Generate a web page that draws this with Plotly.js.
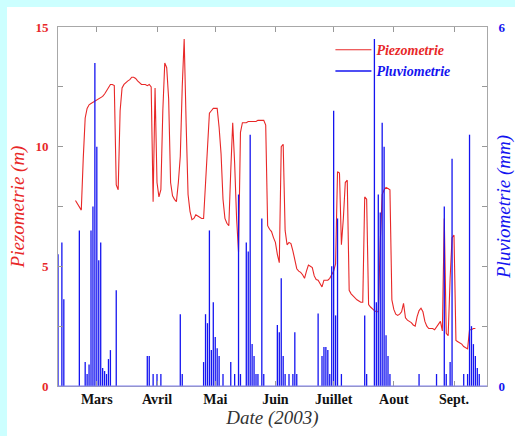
<!DOCTYPE html>
<html><head><meta charset="utf-8">
<script src="https://cdn.plot.ly/plotly-3.0.1.min.js"></script>
<style>
html,body{margin:0;padding:0;background:#ccffff;width:515px;height:436px;overflow:hidden}
#chart{position:absolute;left:7px;top:7px;width:508px;height:429px;background:#fff}
</style></head><body><div id="chart"></div>
<script>
const piezoDates = [
'2003-02-18','2003-02-19','2003-02-20','2003-02-21','2003-02-22','2003-02-23','2003-02-24','2003-02-25','2003-02-26','2003-02-27','2003-02-28',
'2003-03-01','2003-03-02','2003-03-03','2003-03-04','2003-03-05','2003-03-06','2003-03-07','2003-03-08','2003-03-09','2003-03-10',
'2003-03-11','2003-03-12','2003-03-13','2003-03-14','2003-03-15','2003-03-16','2003-03-17','2003-03-18','2003-03-19','2003-03-20',
'2003-03-21','2003-03-22','2003-03-23','2003-03-24','2003-03-25','2003-03-26','2003-03-27','2003-03-28','2003-03-29','2003-03-30','2003-03-31',
'2003-04-01','2003-04-02','2003-04-03','2003-04-04','2003-04-05','2003-04-06','2003-04-07','2003-04-08','2003-04-09','2003-04-10',
'2003-04-11','2003-04-12','2003-04-13','2003-04-14','2003-04-15','2003-04-16','2003-04-17','2003-04-18','2003-04-19','2003-04-20',
'2003-04-21','2003-04-22','2003-04-23','2003-04-24','2003-04-25','2003-04-26','2003-04-27','2003-04-28','2003-04-29','2003-04-30',
'2003-05-01','2003-05-02','2003-05-03','2003-05-04','2003-05-05','2003-05-06','2003-05-07','2003-05-08','2003-05-09','2003-05-10',
'2003-05-11','2003-05-12','2003-05-13','2003-05-14','2003-05-15','2003-05-16','2003-05-17','2003-05-18','2003-05-19','2003-05-20',
'2003-05-21','2003-05-22','2003-05-23','2003-05-24','2003-05-25','2003-05-26','2003-05-27','2003-05-28','2003-05-29','2003-05-30','2003-05-31',
'2003-06-01','2003-06-02','2003-06-03','2003-06-04','2003-06-05','2003-06-06','2003-06-07','2003-06-08','2003-06-09','2003-06-10',
'2003-06-11','2003-06-12','2003-06-13','2003-06-14','2003-06-15','2003-06-16','2003-06-17','2003-06-18','2003-06-19','2003-06-20',
'2003-06-21','2003-06-22','2003-06-23','2003-06-24','2003-06-25','2003-06-26','2003-06-27','2003-06-28','2003-06-29','2003-06-30',
'2003-07-01','2003-07-02','2003-07-03','2003-07-04','2003-07-05','2003-07-06','2003-07-07','2003-07-08','2003-07-09','2003-07-10',
'2003-07-11','2003-07-12','2003-07-13','2003-07-14','2003-07-15','2003-07-16','2003-07-17','2003-07-18','2003-07-19','2003-07-20',
'2003-07-21','2003-07-22','2003-07-23','2003-07-24','2003-07-25','2003-07-26','2003-07-27','2003-07-28','2003-07-29','2003-07-30','2003-07-31',
'2003-08-01','2003-08-02','2003-08-03','2003-08-04','2003-08-05','2003-08-06','2003-08-07','2003-08-08','2003-08-09','2003-08-10',
'2003-08-11','2003-08-12','2003-08-13','2003-08-14','2003-08-15','2003-08-16','2003-08-17','2003-08-18','2003-08-19','2003-08-20',
'2003-08-21','2003-08-22','2003-08-23','2003-08-24','2003-08-25','2003-08-26','2003-08-27','2003-08-28','2003-08-29','2003-08-30','2003-08-31',
'2003-09-01','2003-09-02','2003-09-03','2003-09-04','2003-09-05','2003-09-06','2003-09-07','2003-09-08','2003-09-09','2003-09-10','2003-09-11','2003-09-12'
];
const piezoValues = [
7.75,7.6,7.45,7.35,9.5,11.2,11.6,11.75,11.8,11.85,11.9,
11.95,12.0,12.05,12.1,12.2,12.35,12.5,12.6,12.6,12.55,
8.4,8.2,11.5,12.45,12.6,12.7,12.75,12.8,12.9,12.9,
12.85,12.75,12.65,12.6,12.6,12.6,12.55,12.6,12.5,7.7,12.45,
8.5,7.9,8.2,11.5,13.5,13.3,12.0,8.5,7.95,7.8,
7.7,8.5,9.6,12.5,14.5,11.0,8.0,7.3,6.95,7.0,
7.15,7.1,7.05,7.0,7.0,8.5,9.8,11.4,11.5,11.6,
11.6,11.6,10.8,9.7,7.8,7.0,6.8,6.7,9.0,11.0,
9.3,7.0,5.6,10.6,11.0,11.0,11.0,11.05,11.05,11.05,
11.05,11.05,11.1,11.1,11.1,11.1,10.9,6.7,6.55,6.45,6.2,
6.0,5.5,5.15,10.0,10.1,6.5,5.9,6.0,5.95,5.65,
5.3,4.9,4.8,4.75,4.65,4.5,4.8,5.05,5.0,4.95,
4.6,4.45,4.42,4.3,4.14,4.42,4.42,4.42,4.5,4.63,
4.8,5.1,8.95,8.9,5.9,7.0,8.5,8.6,4.0,3.85,
3.75,3.66,3.6,3.55,3.5,3.5,7.9,7.8,3.4,3.3,
3.2,3.15,3.1,3.1,6.0,8.0,8.2,8.3,8.25,8.2,3.6,
3.2,3.0,2.95,3.0,3.1,3.45,2.85,2.75,2.7,2.65,
2.55,2.5,2.9,3.15,3.25,3.1,2.7,2.5,2.4,2.4,
2.4,2.35,2.45,2.6,2.7,2.3,7.0,2.2,2.1,4.5,6.2,
6.3,1.9,1.85,1.8,1.75,1.65,1.6,1.55,2.35,2.35,2.4,2.4
];
const rainDates = [
'2003-02-09','2003-02-11','2003-02-12','2003-02-20','2003-02-23','2003-02-24','2003-02-25','2003-02-26','2003-02-27','2003-02-28',
'2003-03-01','2003-03-02','2003-03-03','2003-03-04','2003-03-05','2003-03-06','2003-03-07','2003-03-08','2003-03-11',
'2003-03-27','2003-03-28','2003-03-30','2003-04-01','2003-04-03','2003-04-13','2003-04-14',
'2003-04-25','2003-04-26','2003-04-27','2003-04-28','2003-04-29','2003-04-30',
'2003-05-01','2003-05-02','2003-05-03','2003-05-05','2003-05-09','2003-05-11','2003-05-13','2003-05-14',
'2003-05-17','2003-05-18','2003-05-19','2003-05-20','2003-05-21','2003-05-22','2003-05-23','2003-05-25','2003-05-26',
'2003-06-02','2003-06-03','2003-06-04','2003-06-05','2003-06-06','2003-06-08','2003-06-10','2003-06-11','2003-06-12',
'2003-06-23','2003-06-25','2003-06-26','2003-06-27','2003-06-28','2003-06-29','2003-06-30',
'2003-07-01','2003-07-02','2003-07-03','2003-07-05','2003-07-17','2003-07-18',
'2003-07-22','2003-07-23','2003-07-24','2003-07-25','2003-07-26','2003-07-27','2003-07-28','2003-07-29','2003-07-30',
'2003-08-14','2003-08-23','2003-08-27','2003-08-28','2003-08-30','2003-08-31',
'2003-09-06','2003-09-08','2003-09-09','2003-09-10','2003-09-11','2003-09-12','2003-09-13','2003-09-14'
];
const rainValues = [
2.2,2.4,1.45,2.6,0.4,0.2,0.36,2.6,3.0,5.4,
4.0,2.1,2.4,0.3,0.25,0.2,0.45,0.6,1.6,
0.5,0.5,0.2,0.2,0.2,1.2,0.2,
0.4,1.2,1.05,2.6,0.6,1.4,
0.82,0.63,0.5,0.2,0.4,0.2,3.2,0.2,
2.4,2.25,4.2,0.7,0.5,0.2,0.2,2.8,0.2,
1.02,0.9,1.8,0.5,0.2,0.2,0.2,0.9,0.2,
1.21,0.5,0.65,0.65,0.6,0.2,2.0,
4.6,1.18,2.8,0.2,1.18,0.2,
5.8,1.4,3.2,2.9,4.4,4.0,0.85,0.5,0.2,
0.2,0.2,3.0,0.2,0.4,3.8,
0.2,0.2,4.2,1.0,0.7,0.5,0.3,0.2
];
const monthTicks = ['2003-03-01','2003-04-01','2003-05-01','2003-06-01','2003-07-01','2003-08-01','2003-09-01'];
const monthLabels = ['Mars','Avril','Mai','Juin','Juillet','Aout','Sept.'];
const piezoTicks = [0,2.5,5,7.5,10,12.5,15];
const piezoTickLabels = ['0','','5','','10','','15'];
const rainTicks = [0,1,2,3,4,5,6];
const rainTickLabels = ['0','','','','','','6'];

const RED = '#e82828', BLUE = '#1414f0';
const serif = 'Liberation Serif, Times New Roman, serif';

const rx = [], ry = [];
rainDates.forEach((d, i) => { rx.push(d, d, null); ry.push(0, rainValues[i], null); });

const traces = [
  { x: piezoDates, y: piezoValues, type: 'scatter', mode: 'lines', yaxis: 'y', xaxis: 'x',
    line: { color: RED, width: 1.1 },
    name: '<span style="color:' + RED + '"><b><i>Piezometrie</i></b></span>' },
  { x: rx, y: ry, type: 'scatter', mode: 'lines', yaxis: 'y2', xaxis: 'x',
    line: { color: BLUE, width: 1.3 }, connectgaps: false,
    name: '<span style="color:' + BLUE + '"><b><i>Pluviometrie</i></b></span>' }
];

const layout = {
  width: 508, height: 429,
  margin: { l: 51, r: 28, t: 20, b: 50, pad: 0 },
  paper_bgcolor: '#ffffff', plot_bgcolor: '#ffffff',
  font: { family: serif },
  showlegend: true,
  legend: { x: 0.635, y: 0.98, xanchor: 'left', yanchor: 'top', bgcolor: 'rgba(0,0,0,0)',
    font: { family: serif, size: 14 }, itemwidth: 36, tracegroupgap: 0 },
  xaxis: {
    type: 'date', range: ['2003-02-09', '2003-09-18'],
    tickvals: monthTicks, ticktext: monthLabels,
    ticks: 'inside', ticklen: 5, tickcolor: '#999', tickwidth: 1,
    showline: true, linecolor: '#a8a8a8', linewidth: 1, mirror: 'ticks',
    showgrid: false, zeroline: false,
    tickfont: { family: serif, size: 14, color: '#111', weight: 'bold' },
    title: { text: 'Date (2003)', standoff: 3, font: { family: serif, size: 19, color: '#333', style: 'italic' } }
  },
  yaxis: {
    range: [0, 15], tickvals: piezoTicks, ticktext: piezoTickLabels,
    ticks: 'inside', ticklen: 5, tickcolor: '#999', tickwidth: 1,
    showline: true, linecolor: '#a8a8a8', linewidth: 1, mirror: false,
    showgrid: false, zeroline: false, ticklabelstandoff: 6,
    tickfont: { family: serif, size: 13, color: RED, weight: 'bold' },
    title: { text: 'Piezometrie (m)', standoff: 10, font: { family: serif, size: 19, color: RED, style: 'italic' } }
  },
  yaxis2: {
    overlaying: 'y', side: 'right', range: [0, 6],
    tickvals: rainTicks, ticktext: rainTickLabels,
    ticks: 'inside', ticklen: 5, tickcolor: '#999', tickwidth: 1,
    showline: true, linecolor: '#a8a8a8', linewidth: 1,
    showgrid: false, zeroline: false, ticklabelstandoff: 8,
    tickfont: { family: serif, size: 13, color: BLUE, weight: 'bold' },
    title: { text: 'Pluviometrie (mm)', standoff: 0, font: { family: serif, size: 19, color: BLUE, style: 'italic' } }
  },
  shapes: [
    { type: 'line', xref: 'paper', yref: 'paper', x0: 0, x1: 1, y0: 0, y1: 0,
      line: { color: '#8080f0', width: 1.2 }, layer: 'above' }
  ]
};

Plotly.newPlot('chart', traces, layout, { staticPlot: true, displayModeBar: false });
</script></body></html>
